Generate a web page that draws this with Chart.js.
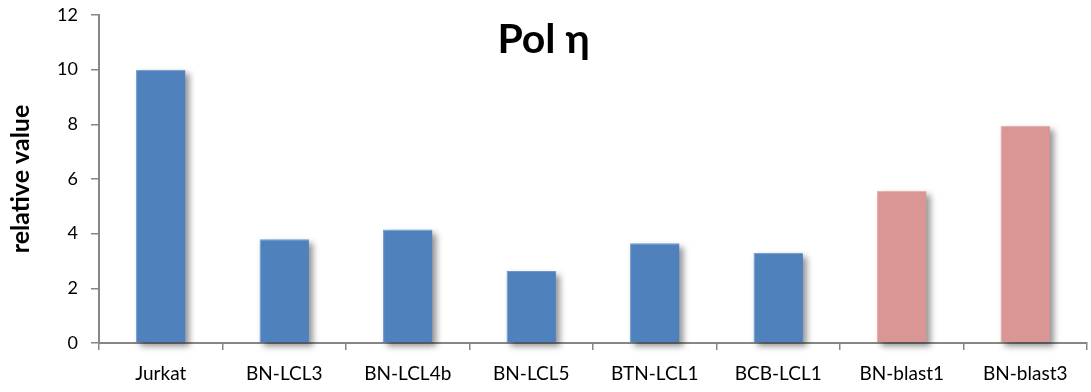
<!DOCTYPE html>
<html>
<head>
<meta charset="utf-8">
<title>Pol η</title>
<script src="https://cdn.jsdelivr.net/npm/chart.js@4/dist/chart.umd.min.js"></script>
<style>
  html, body { margin: 0; padding: 0; background: #ffffff; }
  #wrap { width: 1091px; height: 392px; position: relative; }
</style>
</head>
<body>
<div id="wrap"><canvas id="chart"></canvas></div>
<script>
// Samples and their relative Pol η values
const categories = ['Jurkat', 'BN-LCL3', 'BN-LCL4b', 'BN-LCL5', 'BTN-LCL1', 'BCB-LCL1', 'BN-blast1', 'BN-blast3'];
const sampleKind = ['line', 'line', 'line', 'line', 'line', 'line', 'blast', 'blast'];
const relativeValues = [10.0, 3.80, 4.15, 2.63, 3.65, 3.30, 5.57, 7.95];
const yTicks = [0, 2, 4, 6, 8, 10, 12];
const chartTitle = 'Pol η';
const yAxisTitle = 'relative value';

const kindColor = { line: '#4F81BD', blast: '#D99694' };
const kindEdge = { line: '#6d98cc', blast: '#e4aaa8' };

const FONT = 'Lato, "Open Sans", "DejaVu Sans", sans-serif';

// Soft drop shadow painted under each bar, using the bar geometry from the chart
const barShadow = {
  id: 'barShadow',
  beforeDatasetsDraw(chart) {
    const ctx = chart.ctx;
    const meta = chart.getDatasetMeta(0);
    ctx.save();
    ctx.filter = 'blur(3px)';
    ctx.fillStyle = 'rgba(0,0,0,0.42)';
    meta.data.forEach(bar => {
      const p = bar.getProps(['x', 'y', 'base', 'width'], true);
      ctx.fillRect(p.x - p.width / 2 + 4, p.y + 4, p.width, p.base - p.y);
    });
    ctx.restore();
  }
};

// Title drawn inside the plot area
const innerTitle = {
  id: 'innerTitle',
  afterDraw(chart) {
    const ctx = chart.ctx;
    const area = chart.chartArea;
    ctx.save();
    ctx.font = 'bold 41px ' + FONT;
    ctx.fillStyle = '#000000';
    ctx.textAlign = 'center';
    ctx.textBaseline = 'alphabetic';
    ctx.fillText(chartTitle, area.left + (area.right - area.left) * 0.45, 53);
    ctx.restore();
  }
};

new Chart(document.getElementById('chart'), {
  type: 'bar',
  data: {
    labels: categories,
    datasets: [{
      data: relativeValues,
      backgroundColor: sampleKind.map(k => kindColor[k]),
      borderColor: sampleKind.map(k => kindEdge[k]),
      borderWidth: { top: 1, left: 1, right: 0, bottom: 0 },
      barPercentage: 0.4,
      categoryPercentage: 1.0
    }]
  },
  options: {
    responsive: true,
    maintainAspectRatio: false,
    animation: false,
    layout: { padding: { top: 15, right: 4, left: 0, bottom: 0 } },
    plugins: {
      legend: { display: false },
      title: { display: false },
      tooltip: { enabled: false }
    },
    scales: {
      x: {
        offset: true,
        grid: {
          display: true,
          drawOnChartArea: false,
          drawTicks: true,
          tickLength: 7,
          color: '#868686',
          lineWidth: 1.5,
          offset: true
        },
        border: { display: true, color: '#868686', width: 2 },
        ticks: {
          color: '#000000',
          font: { family: FONT, size: 19 },
          padding: 12,
          maxRotation: 0,
          autoSkip: false
        },
        afterFit(scale) { scale.height = 49; }
      },
      y: {
        min: 0,
        max: 12,
        afterBuildTicks(scale) { scale.ticks = yTicks.map(v => ({ value: v })); },
        grid: {
          display: true,
          drawOnChartArea: false,
          drawTicks: true,
          tickLength: 8,
          color: '#868686',
          lineWidth: 1.5
        },
        border: { display: true, color: '#868686', width: 2 },
        ticks: {
          color: '#000000',
          font: { family: FONT, size: 18 },
          padding: 13
        },
        title: {
          display: true,
          text: yAxisTitle,
          color: '#000000',
          font: { family: FONT, size: 25, weight: 'bold' },
          padding: { top: 6, bottom: 0 }
        },
        afterFit(scale) {
          scale.width = 99;
          scale.paddingTop = 0;
          scale.paddingBottom = 0;
        }
      }
    }
  },
  plugins: [barShadow, innerTitle]
});
</script>
</body>
</html>
